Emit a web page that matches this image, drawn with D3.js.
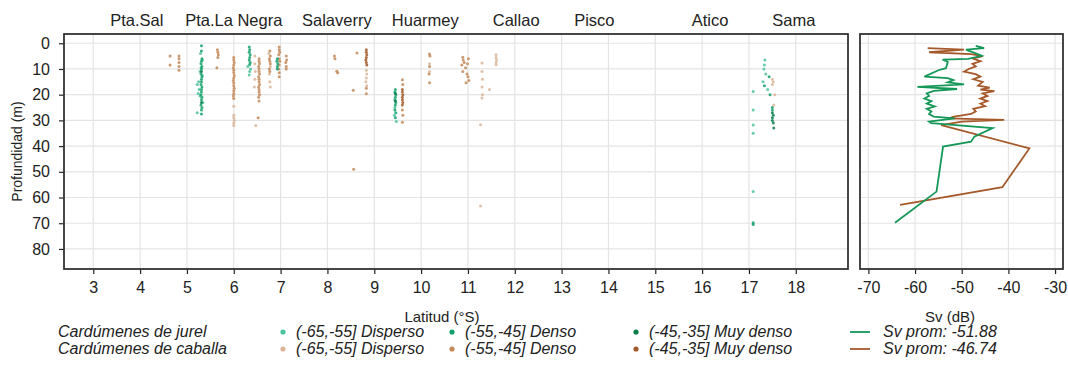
<!DOCTYPE html>
<html>
<head>
<meta charset="utf-8">
<script src="https://cdn.jsdelivr.net/npm/d3@7"></script>
<style>
  body { margin: 0; background: #fff; }
  text { font-family: "Liberation Sans", Arial, sans-serif; fill: #222; }
</style>
</head>
<body>
<div id="chart"></div>
<script>
// ---- data ----
const places = ["Pta.Sal", "Pta.La Negra", "Salaverry", "Huarmey", "Callao", "Pisco", "Atico", "Sama"];
const placeLat = [3.93, 6.0, 8.2, 10.09, 12.03, 13.7, 16.17, 17.96];

const latTicks = [3, 4, 5, 6, 7, 8, 9, 10, 11, 12, 13, 14, 15, 16, 17, 18];
const depthTicks = [0, 10, 20, 30, 40, 50, 60, 70, 80];
const svTicks = [-70, -60, -50, -40, -30];

const classLabels = ["(-65,-55] Disperso", "(-55,-45] Denso", "(-45,-35] Muy denso"];
const speciesLabels = ["Cardúmenes de jurel", "Cardúmenes de caballa"];
const svMeans = [-51.88, -46.74];

// [latitude, depth]
const jurelDisperso = [
  [5.29, 4], [5.33, 6.5], [5.30, 9.5], [5.33, 12.5], [5.25, 15], [5.22, 16], [5.26, 18],
  [5.24, 19.5], [5.28, 20.5], [5.22, 27], [5.34, 23], [5.28, 11],
  [6.36, 10], [6.34, 11], [6.33, 12.3], [6.30, 9],
  [9.43, 28], [9.47, 30.4], [9.44, 25],
  [17.34, 6.5], [17.33, 8.5], [17.32, 10], [17.30, 15], [17.40, 18], [17.36, 12],
  [17.09, 18.8], [17.09, 26], [17.09, 31.8], [17.09, 35], [17.09, 57.7]
];
const jurelDenso = [
  [5.31, 1], [5.31, 3], [5.32, 6], [5.31, 7], [5.30, 8], [5.32, 9], [5.31, 10], [5.30, 12],
  [5.32, 13], [5.31, 14], [5.31, 15], [5.30, 16], [5.32, 17], [5.31, 18], [5.31, 19],
  [5.30, 20], [5.32, 21], [5.31, 22], [5.30, 24], [5.32, 25], [5.31, 26], [5.31, 27.5],
  [6.33, 1.5], [6.34, 2.5], [6.33, 3.5], [6.35, 4.5], [6.34, 5.5], [6.33, 6.5], [6.35, 7.5], [6.34, 8.3],
  [6.93, 6], [6.92, 7], [6.94, 8], [6.93, 9], [6.93, 10],
  [9.45, 18], [9.44, 19], [9.46, 20], [9.45, 21], [9.44, 22], [9.46, 23], [9.45, 24],
  [9.44, 26], [9.46, 27], [9.45, 29],
  [17.43, 13], [17.33, 16.5], [17.45, 20], [17.50, 25], [17.50, 26],
  [17.09, 69.8], [17.09, 70.5]
];
const jurelMuyDenso = [
  [5.31, 11], [5.31, 23], [9.45, 19.5], [9.45, 22.5],
  [17.50, 27], [17.52, 28], [17.50, 29], [17.50, 30], [17.52, 31], [17.53, 33]
];
const caballaDisperso = [
  [6.00, 24.5], [6.00, 28], [6.00, 29], [6.01, 30], [6.00, 31], [6.00, 32],
  [6.45, 5], [6.45, 8], [6.46, 11], [6.45, 14], [6.44, 17], [6.47, 32],
  [6.75, 4], [6.78, 9], [6.76, 12], [6.77, 15], [6.78, 17],
  [8.83, 10.5], [8.84, 12], [8.83, 13.5], [8.82, 15], [8.84, 16.5],
  [10.18, 8], [10.18, 11],
  [11.30, 7.7], [11.30, 11], [11.31, 14], [11.30, 17], [11.31, 20], [11.30, 21.3],
  [11.27, 31.7], [11.27, 63.3], [11.46, 18],
  [11.60, 4.5], [11.60, 5.5], [11.61, 6.5], [11.60, 7.5], [11.60, 8.4],
  [17.50, 14], [17.52, 15], [17.50, 16], [17.55, 20], [17.53, 24]
];
const caballaDenso = [
  [4.64, 5], [4.64, 8.5], [4.83, 5], [4.83, 6], [4.83, 7.5], [4.83, 9], [4.83, 10.5],
  [5.65, 2.5], [5.66, 3.5], [5.67, 4.5], [5.66, 5.5], [5.64, 9.5],
  [6.00, 5.5], [6.00, 6.5], [6.01, 7.5], [6.00, 8.5], [5.99, 9.5], [6.00, 10.5], [6.00, 11.5],
  [6.01, 12.5], [6.00, 13.5], [5.99, 14.5], [6.00, 15.5], [6.00, 16.5], [6.01, 17.5],
  [6.00, 18.5], [6.00, 19.5], [5.99, 20.5], [6.00, 21.5],
  [6.54, 6], [6.54, 7], [6.55, 8], [6.53, 9], [6.54, 10], [6.54, 11], [6.55, 12], [6.53, 13],
  [6.54, 14], [6.54, 15], [6.55, 16], [6.53, 17], [6.54, 18], [6.54, 19], [6.55, 20],
  [6.53, 21], [6.54, 22.5], [6.52, 29],
  [6.77, 3], [6.78, 5], [6.76, 6], [6.77, 7], [6.78, 8], [6.76, 10], [6.77, 11],
  [6.97, 1.5], [6.97, 2.5], [6.98, 3.5], [6.96, 4.5], [6.97, 6], [6.98, 7], [6.97, 8.5],
  [6.96, 10], [6.97, 11.5], [6.97, 13],
  [7.12, 5], [7.13, 6.5], [7.11, 7.5], [7.12, 9], [7.12, 10],
  [8.15, 5], [8.16, 6], [8.20, 10.9], [8.22, 11.5], [8.55, 18.3], [8.63, 3.8], [8.56, 49],
  [8.83, 17.5], [8.83, 19.6],
  [9.60, 14.2], [9.61, 16], [9.60, 26], [9.61, 28], [9.60, 30.7],
  [10.18, 4.2], [10.19, 5], [10.18, 9], [10.17, 12], [10.18, 15.4],
  [10.89, 5.4], [10.90, 6.5], [10.92, 7.5], [10.87, 8.5], [10.95, 9.5], [10.89, 11],
  [10.98, 12], [11.00, 13], [11.02, 14.5], [10.96, 15.4], [11.01, 6], [10.99, 8]
];
const caballaMuyDenso = [
  [8.83, 2.5], [8.83, 3.5], [8.84, 4.5], [8.83, 5.5], [8.82, 6.5], [8.83, 7.5], [8.84, 8.5],
  [9.60, 18], [9.60, 19], [9.61, 20], [9.60, 21], [9.60, 22], [9.61, 23], [9.60, 24]
];

// Sv profile (mean Sv by depth)
const jurelDepth = [1, 1.9, 2.5, 3.9, 4.9, 6.1, 6.4, 7.2, 8.1, 9.7, 10.5, 13, 13.6, 14.3, 15.2, 16, 17, 17.8,
  18.5, 19.5, 20.5, 21.5, 22.5, 23.5, 24.6, 25.5, 26.5, 27.5, 28.5, 29.2, 29.8, 30.5, 31.1, 33, 36.3, 38.3, 40.2, 57.7, 69.8];
const jurelSv = [-47, -45.2, -49.1, -47, -45.7, -48.6, -54.1, -53, -53.1, -53.4, -55, -58, -53, -51.8, -53, -49.5, -59.5, -51,
  -56, -57.5, -57, -58, -56.5, -57.5, -55.8, -57.5, -56.5, -57, -56, -51.5, -54.1, -57, -56.5, -43.4, -47.3, -48, -54, -55.4, -64.3];

const caballaDepth = [1.9, 2.5, 3.5, 4.2, 5, 6, 7, 8, 9, 10, 11, 12, 13, 14, 15, 15.6, 16.5, 17.3, 18, 18.6,
  19.5, 20.5, 21.5, 22.5, 23.5, 24.5, 25.5, 26.5, 27.5, 28.6, 29.2, 29.8, 30.5, 31.8, 40.9, 56, 62.9];
const caballaSv = [-57.3, -49.5, -57, -48, -45.5, -47.6, -46, -47.7, -47, -48.5, -49.5, -47, -46, -47.5, -45.5, -45.9, -46.5, -44, -46, -43,
  -45.5, -44.5, -46, -44.5, -46, -45, -47.5, -47, -48, -51.9, -52.7, -40.9, -50, -54.4, -35.5, -41.3, -63.2];

// ---- colours ----
const jurelColors = ["#4cc298", "#14a06c", "#0a7d4d"];
const caballaColors = ["#dab596", "#c28858", "#a2592a"];
const lineColors = ["#159758", "#a5592a"];

// ---- layout ----
const width = 1068, height = 367;
const svg = d3.select("#chart").append("svg").attr("width", width).attr("height", height);

const left = { x0: 64, x1: 848, y0: 34, y1: 269 };
const right = { x0: 860, x1: 1063, y0: 34, y1: 269 };

const xLat = d3.scaleLinear().domain([2.375, 19.115]).range([left.x0, left.x1]);
const yDepth = d3.scaleLinear().domain([-3.6, 87.8]).range([left.y0, left.y1]);
const xSv = d3.scaleLinear().domain([-71.8, -28.3]).range([right.x0, right.x1]);

// grid
const grid = svg.append("g").attr("stroke", "#e4e4e4").attr("stroke-width", 1.2);
grid.selectAll(".vl").data(latTicks).enter().append("line")
  .attr("x1", d => xLat(d)).attr("x2", d => xLat(d)).attr("y1", left.y0).attr("y2", left.y1);
grid.selectAll(".hl").data(depthTicks).enter().append("line")
  .attr("x1", left.x0).attr("x2", left.x1).attr("y1", d => yDepth(d)).attr("y2", d => yDepth(d));
grid.selectAll(".vr").data(svTicks).enter().append("line")
  .attr("x1", d => xSv(d)).attr("x2", d => xSv(d)).attr("y1", right.y0).attr("y2", right.y1);
grid.selectAll(".hr").data(depthTicks).enter().append("line")
  .attr("x1", right.x0).attr("x2", right.x1).attr("y1", d => yDepth(d)).attr("y2", d => yDepth(d));

// axes
function styleAxis(g) {
  g.select(".domain").remove();
  g.selectAll(".tick line").attr("stroke", "#222").attr("stroke-width", 1.2);
  g.selectAll(".tick text").style("font-size", "16px").attr("fill", "#222")
    .style("font-family", "'Liberation Sans', Arial, sans-serif");
}
const plain = d => String(d); // keep ASCII hyphen for negatives
svg.append("g").attr("transform", `translate(0,${left.y1})`)
  .call(d3.axisBottom(xLat).tickValues(latTicks).tickSize(5).tickPadding(8).tickFormat(plain))
  .call(styleAxis);
svg.append("g").attr("transform", `translate(${left.x0},0)`)
  .call(d3.axisLeft(yDepth).tickValues(depthTicks).tickSize(5).tickPadding(9).tickFormat(plain))
  .call(styleAxis);
svg.append("g").attr("transform", `translate(0,${right.y1})`)
  .call(d3.axisBottom(xSv).tickValues(svTicks).tickSize(5).tickPadding(8).tickFormat(plain))
  .call(styleAxis);

// scatter
const groups = [
  { pts: caballaDisperso, color: caballaColors[0] },
  { pts: caballaDenso, color: caballaColors[1] },
  { pts: caballaMuyDenso, color: caballaColors[2] },
  { pts: jurelDisperso, color: jurelColors[0] },
  { pts: jurelDenso, color: jurelColors[1] },
  { pts: jurelMuyDenso, color: jurelColors[2] }
];
groups.forEach(g => {
  svg.append("g").selectAll("circle").data(g.pts).enter().append("circle")
    .attr("cx", d => xLat(d[0])).attr("cy", d => yDepth(d[1]))
    .attr("r", 1.5).attr("fill", g.color).attr("opacity", 0.85);
});

// Sv lines
const line = d3.line().x(d => xSv(d[1])).y(d => yDepth(d[0]));
svg.append("path").datum(d3.zip(caballaDepth, caballaSv)).attr("d", line)
  .attr("fill", "none").attr("stroke", lineColors[1]).attr("stroke-width", 1.8);
svg.append("path").datum(d3.zip(jurelDepth, jurelSv)).attr("d", line)
  .attr("fill", "none").attr("stroke", lineColors[0]).attr("stroke-width", 1.8);

// panel borders
[left, right].forEach(p => {
  svg.append("rect").attr("x", p.x0).attr("y", p.y0)
    .attr("width", p.x1 - p.x0).attr("height", p.y1 - p.y0)
    .attr("fill", "none").attr("stroke", "#333").attr("stroke-width", 1.8);
});

// place names
svg.selectAll(".place").data(places).enter().append("text")
  .attr("x", (d, i) => xLat(placeLat[i])).attr("y", 26)
  .attr("text-anchor", "middle").style("font-size", "16.5px").text(d => d);

// axis labels
svg.append("text").attr("x", 442).attr("y", 322).attr("text-anchor", "middle")
  .style("font-size", "15px").text("Latitud (°S)");
svg.append("text").attr("x", 950).attr("y", 322).attr("text-anchor", "middle")
  .style("font-size", "15px").text("Sv (dB)");
svg.append("text").attr("transform", "rotate(-90)").attr("x", -(left.y0 + left.y1) / 2).attr("y", 22)
  .attr("text-anchor", "middle").style("font-size", "14px").text("Profundidad (m)");

// legend
const rowY = [337, 354];
const dotX = [283, 452, 636];
const allColors = [jurelColors, caballaColors];
speciesLabels.forEach((s, r) => {
  svg.append("text").attr("x", 58).attr("y", rowY[r]).style("font-size", "16px")
    .style("font-style", "italic").text(s);
  classLabels.forEach((c, k) => {
    svg.append("circle").attr("cx", dotX[k]).attr("cy", rowY[r] - 5).attr("r", 2.6)
      .attr("fill", allColors[r][k]);
    svg.append("text").attr("x", dotX[k] + 13).attr("y", rowY[r]).style("font-size", "16px")
      .style("font-style", "italic").text(c);
  });
  svg.append("line").attr("x1", 850).attr("x2", 870).attr("y1", rowY[r] - 5).attr("y2", rowY[r] - 5)
    .attr("stroke", lineColors[r]).attr("stroke-width", 1.8);
  svg.append("text").attr("x", 883).attr("y", rowY[r]).style("font-size", "16px")
    .style("font-style", "italic").text("Sv prom: " + svMeans[r].toFixed(2));
});
</script>
</body>
</html>
